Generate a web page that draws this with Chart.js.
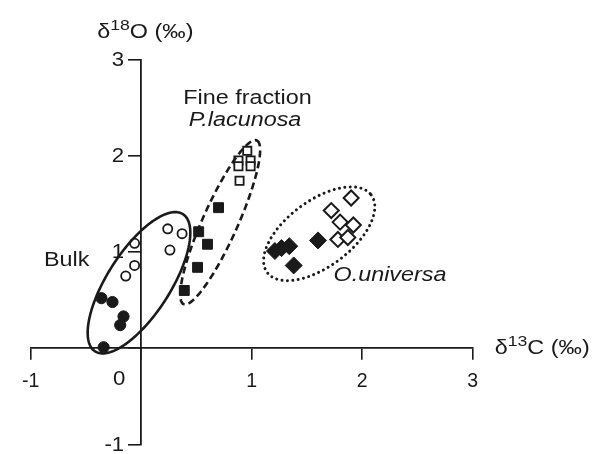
<!DOCTYPE html>
<html>
<head>
<meta charset="utf-8">
<script src="https://cdn.jsdelivr.net/npm/chart.js@4.4.1/dist/chart.umd.min.js"></script>
<style>
  html, body { margin: 0; padding: 0; background: #fff; }
  #wrap { width: 592px; height: 454px; }
</style>
</head>
<body>
<div id="wrap"><canvas id="isoChart"></canvas></div>
<script>
// axis ticks
const xTicks = [-1, 0, 1, 2, 3];
const yTicks = [-1, 0, 1, 2, 3];

// d13C / d18O values
const bulkFilledX = [-0.36, -0.26, -0.16, -0.19, -0.34];
const bulkFilledY = [0.52, 0.48, 0.33, 0.24, 0.01];
const bulkOpenX = [-0.06, 0.24, 0.37, 0.26, -0.06, -0.14];
const bulkOpenY = [1.09, 1.24, 1.19, 1.02, 0.86, 0.75];
const fineX = [0.70, 0.52, 0.60, 0.51, 0.39];
const fineY = [1.46, 1.21, 1.08, 0.84, 0.60];
const lacunosaX = [0.96, 0.88, 0.88, 0.99, 0.99, 0.89];
const lacunosaY = [2.05, 1.95, 1.89, 1.95, 1.89, 1.74];
const universaFilledX = [1.21, 1.27, 1.34, 1.38, 1.60];
const universaFilledY = [1.01, 1.04, 1.06, 0.86, 1.12];
const universaOpenX = [1.90, 1.72, 1.80, 1.92, 1.78, 1.87];
const universaOpenY = [1.56, 1.43, 1.31, 1.28, 1.13, 1.15];

// group ellipses in data units: centre + two half axis vectors
const groupEllipses = [
  { cx: -0.02, cy: 0.68, ax: 0.397, ay: 0.713, bx: 0.241, by: -0.175, line: "solid" },
  { cx: 0.715, cy: 1.308, ax: 0.331, ay: 0.850, bx: 0.145, by: -0.074, line: "dash" },
  { cx: 1.611, cy: 1.189, ax: 0.470, ay: 0.404, bx: 0.180, by: -0.272, line: "dot" },
];

// group labels (data units, left edge / baseline)
const groupLabels = [
  { text: "Bulk", x: -0.88, y: 0.85, italic: false },
  { text: "Fine fraction", x: 0.38, y: 2.54, italic: false },
  { text: "P.lacunosa", x: 0.43, y: 2.31, italic: true },
  { text: "O.universa", x: 1.74, y: 0.70, italic: true },
];

const FONT = '"Liberation Sans", Arial, Helvetica, sans-serif';
const INK = "#1a1a1a";
const STRETCH = 1.14; // the source figure is a little wider than tall

function pts(xs, ys) {
  return xs.map((x, i) => ({ x: x, y: ys[i] }));
}

function wideText(ctx, text, x, y, align) {
  ctx.save();
  ctx.translate(x, y);
  ctx.scale(STRETCH, 1);
  ctx.textAlign = align || "left";
  ctx.fillText(text, 0, 0);
  const w = ctx.measureText(text).width * STRETCH;
  ctx.restore();
  return w;
}

const groupsPlugin = {
  id: "groups",
  afterDatasetsDraw(chart) {
    const ctx = chart.ctx;
    const xs = chart.scales.x;
    const ys = chart.scales.y;
    ctx.save();
    groupEllipses.forEach(function (e) {
      ctx.beginPath();
      for (let i = 0; i <= 180; i++) {
        const t = (i / 180) * Math.PI * 2;
        const dx = e.cx + Math.cos(t) * e.ax + Math.sin(t) * e.bx;
        const dy = e.cy + Math.cos(t) * e.ay + Math.sin(t) * e.by;
        const px = xs.getPixelForValue(dx);
        const py = ys.getPixelForValue(dy);
        if (i === 0) ctx.moveTo(px, py);
        else ctx.lineTo(px, py);
      }
      ctx.closePath();
      ctx.strokeStyle = INK;
      if (e.line === "dash") {
        ctx.setLineDash([7, 4]);
        ctx.lineWidth = 2.6;
        ctx.lineCap = "butt";
      } else if (e.line === "dot") {
        ctx.setLineDash([0.01, 5.4]);
        ctx.lineWidth = 3;
        ctx.lineCap = "round";
      } else {
        ctx.setLineDash([]);
        ctx.lineWidth = 2.6;
        ctx.lineCap = "butt";
      }
      ctx.stroke();
    });
    ctx.setLineDash([]);

    ctx.fillStyle = INK;
    ctx.textBaseline = "alphabetic";
    groupLabels.forEach(function (l) {
      ctx.font = (l.italic ? "italic " : "") + "20.5px " + FONT;
      wideText(ctx, l.text, xs.getPixelForValue(l.x), ys.getPixelForValue(l.y), "left");
    });

    // y tick labels, right of the tick marks (0 is shared with the x axis)
    const axisX = xs.getPixelForValue(0);
    ctx.font = "19.5px " + FONT;
    ctx.textBaseline = "middle";
    yTicks.forEach(function (v) {
      if (v === 0) return;
      wideText(ctx, String(v), axisX - 17, ys.getPixelForValue(v) + 1, "right");
    });

    // shifted "0" under the x axis, left of the y axis
    ctx.textBaseline = "top";
    wideText(ctx, "0", axisX - 22, ys.getPixelForValue(0) + 22, "center");

    // axis titles with superscripts
    function title(x, y, a, sup, b) {
      ctx.textBaseline = "alphabetic";
      ctx.font = "20.5px " + FONT;
      let w = wideText(ctx, a, x, y, "left");
      ctx.font = "15.5px " + FONT;
      w += wideText(ctx, sup, x + w, y - 8, "left");
      ctx.font = "20.5px " + FONT;
      wideText(ctx, b, x + w, y, "left");
    }
    title(axisX - 44, ys.top - 21, "\u03b4", "18", "O (\u2030)");
    title(xs.right + 22, ys.getPixelForValue(0) + 5.5, "\u03b4", "13", "C (\u2030)");
    ctx.restore();
  },
};

const ctx = document.getElementById("isoChart").getContext("2d");
new Chart(ctx, {
  type: "scatter",
  data: {
    datasets: [
      {
        label: "Bulk (filled)",
        data: pts(bulkFilledX, bulkFilledY),
        pointStyle: "circle",
        pointRadius: 5.6,
        backgroundColor: INK,
        borderColor: INK,
        borderWidth: 1,
      },
      {
        label: "Bulk (open)",
        data: pts(bulkOpenX, bulkOpenY),
        pointStyle: "circle",
        pointRadius: 4.6,
        backgroundColor: "#fff",
        borderColor: INK,
        borderWidth: 1.8,
      },
      {
        label: "Fine fraction",
        data: pts(fineX, fineY),
        pointStyle: "rect",
        pointRadius: 7,
        backgroundColor: INK,
        borderColor: INK,
        borderWidth: 1,
      },
      {
        label: "P.lacunosa",
        data: pts(lacunosaX, lacunosaY),
        pointStyle: "rect",
        pointRadius: 5.8,
        backgroundColor: "#fff",
        borderColor: INK,
        borderWidth: 1.8,
      },
      {
        label: "O.universa (filled)",
        data: pts(universaFilledX, universaFilledY),
        pointStyle: "rectRot",
        pointRadius: 8.5,
        backgroundColor: INK,
        borderColor: INK,
        borderWidth: 1,
      },
      {
        label: "O.universa (open)",
        data: pts(universaOpenX, universaOpenY),
        pointStyle: "rectRot",
        pointRadius: 7.5,
        backgroundColor: "#fff",
        borderColor: INK,
        borderWidth: 2,
      },
    ],
  },
  options: {
    responsive: true,
    maintainAspectRatio: false,
    animation: false,
    layout: { padding: { left: 30.7, right: 119.3, top: 59.4, bottom: 8 } },
    plugins: { legend: { display: false }, tooltip: { enabled: false } },
    scales: {
      x: {
        type: "linear",
        min: -1,
        max: 3,
        position: { y: 0 },
        afterBuildTicks: (axis) => { axis.ticks = xTicks.map((v) => ({ value: v })); },
        ticks: {
          color: INK,
          font: { family: FONT, size: 19.5, lineHeight: 0.8 },
          padding: 15,
          callback: (v) => (v === 0 ? "" : v),
        },
        grid: { display: true, drawOnChartArea: false, drawTicks: true, tickLength: 11, color: INK, lineWidth: 1.6 },
        border: { display: true, color: INK, width: 1.8 },
      },
      y: {
        type: "linear",
        min: -1,
        max: 3,
        position: { x: 0 },
        afterBuildTicks: (axis) => { axis.ticks = yTicks.map((v) => ({ value: v })); },
        ticks: { display: false },
        grid: { display: true, drawOnChartArea: false, drawTicks: true, tickLength: 12, color: INK, lineWidth: 1.6 },
        border: { display: true, color: INK, width: 1.8 },
      },
    },
  },
  plugins: [groupsPlugin],
});
</script>
</body>
</html>
